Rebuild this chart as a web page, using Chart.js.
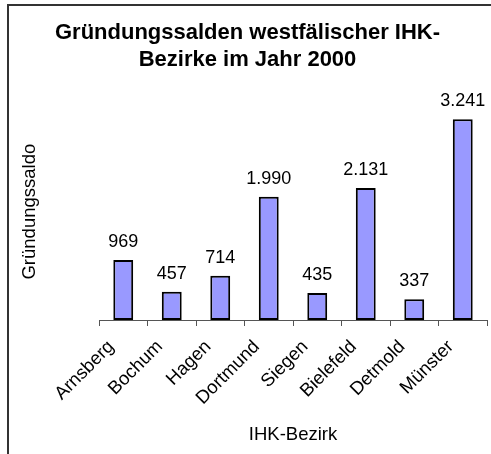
<!DOCTYPE html>
<html>
<head>
<meta charset="utf-8">
<script src="https://cdn.jsdelivr.net/npm/chart.js@4"></script>
<style>
html,body{margin:0;padding:0;background:#fff;}
#wrap{position:relative;width:491px;height:454px;}
</style>
</head>
<body>
<div id="wrap"><canvas id="c" width="491" height="454"></canvas></div>
<script>
const categories = ["Arnsberg","Bochum","Hagen","Dortmund","Siegen","Bielefeld","Detmold","Münster"];
const saldo = [969, 457, 714, 1990, 435, 2131, 337, 3241];
const titleLines = ["Gründungssalden westfälischer IHK-", "Bezirke im Jahr 2000"];
const yTitle = "Gründungssaldo";
const xTitle = "IHK-Bezirk";

const FONT = "'Liberation Sans', Arial, Helvetica, sans-serif";

function fmt(v){
  return String(v).replace(/\B(?=(\d{3})+(?!\d))/g, ".");
}

const frame = {
  id: 'frame',
  beforeDraw(chart){
    const ctx = chart.ctx;
    ctx.save();
    ctx.fillStyle = '#fff';
    ctx.fillRect(0,0,chart.width,chart.height);
    ctx.strokeStyle = '#333';
    ctx.lineWidth = 2;
    ctx.beginPath();
    ctx.moveTo(8, chart.height + 5);
    ctx.lineTo(8, 5);
    ctx.lineTo(chart.width + 5, 5);
    ctx.stroke();
    ctx.restore();
  }
};

const valueLabels = {
  id: 'valueLabels',
  afterDatasetsDraw(chart){
    const ctx = chart.ctx;
    const meta = chart.getDatasetMeta(0);
    ctx.save();
    ctx.font = "18px " + FONT;
    ctx.fillStyle = '#000';
    ctx.textAlign = 'center';
    ctx.textBaseline = 'middle';
    meta.data.forEach((bar, i) => {
      ctx.fillText(fmt(saldo[i]), bar.x, bar.y - 18);
    });
    ctx.restore();
  }
};

new Chart(document.getElementById('c'), {
  type: 'bar',
  data: {
    labels: categories,
    datasets: [{
      data: saldo,
      backgroundColor: '#9999FF',
      borderColor: '#000',
      borderWidth: 2,
      borderSkipped: false,
      barPercentage: 0.41,
      categoryPercentage: 1.0
    }]
  },
  options: {
    responsive: false,
    animation: false,
    devicePixelRatio: 1,
    layout: { padding: { left: 8, right: 4, top: 0, bottom: 0 } },
    plugins: {
      legend: { display: false },
      tooltip: { enabled: false },
      title: {
        display: true,
        text: titleLines,
        color: '#000',
        font: { family: FONT, size: 22, weight: 'bold', lineHeight: 1.23 },
        padding: { top: 19.5, bottom: 29.7 }
      }
    },
    scales: {
      x: {
        grid: { display: true, drawOnChartArea: false, drawTicks: true, tickLength: 6, color: '#555', offset: true },
        border: { display: true, color: '#555', width: 1 },
        ticks: { color: '#000', minRotation: 45, maxRotation: 45, autoSkip: false, padding: 10, labelOffset: -12,
                 font: { family: FONT, size: 18.5 } },
        title: { display: true, text: xTitle, color: '#000', font: { family: FONT, size: 18.5 },
                 padding: { top: 0, bottom: 8 } },
        afterFit(scale){ scale.height = 134; }
      },
      y: {
        min: 0, max: 3500,
        grid: { display: false },
        border: { display: false },
        ticks: { display: false },
        title: { display: true, text: yTitle, color: '#000', font: { family: FONT, size: 18.5 },
                 padding: { top: 11, bottom: 0 } },
        afterFit(scale){ scale.width = 91; }
      }
    }
  },
  plugins: [frame, valueLabels]
});
</script>
</body>
</html>
